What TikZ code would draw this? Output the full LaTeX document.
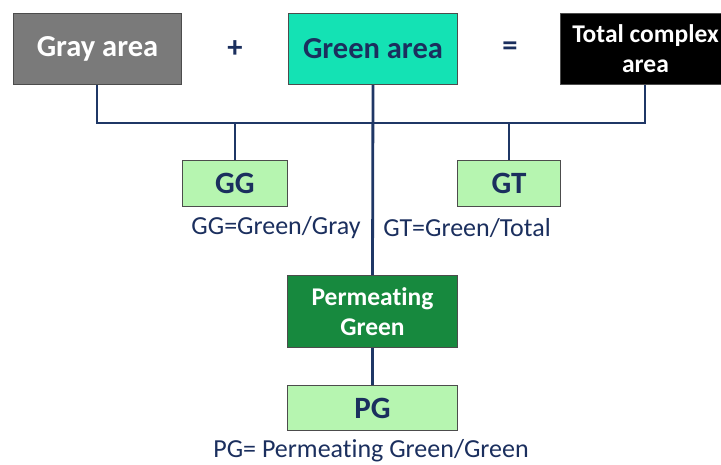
\documentclass[tikz,border=0pt]{standalone}
\usepackage{fontspec}
\setmainfont[Ligatures={NoCommon,TeX}]{Carlito}
\definecolor{navy}{HTML}{1B2F5E}
\definecolor{linec}{HTML}{1F3766}
\definecolor{graybox}{HTML}{7A7A7A}
\definecolor{aqua}{HTML}{14E2B4}
\definecolor{lgreen}{HTML}{B6F5B0}
\definecolor{dgreen}{HTML}{17893E}
\tikzset{
  box/.style={draw=black!70, line width=1pt, inner sep=0pt, anchor=north west},
  conn/.style={draw=linec, line width=2.8pt},
  lbl/.style={text=navy, font=\fontsize{26}{28}\selectfont, inner sep=0pt},
  big/.style={font=\bfseries\fontsize{30.5}{32}\selectfont},
}
\begin{document}
\begin{tikzpicture}[x=1pt,y=-1pt]
\useasboundingbox (0,0) rectangle (721,464);
\node[box, big, fill=graybox, minimum width=168pt, minimum height=71pt, text=white] (gray) at (13,13) {Gray area};
\node[box, big, fill=aqua, minimum width=169pt, minimum height=71pt, text=navy] (green) at (288,13) {Green area};
\node[box, fill=black, minimum width=170pt, minimum height=71pt, text=white, align=center, font=\bfseries\fontsize{25.5}{30}\selectfont] (total) at (560,13) {Total complex\\area};
\node[text=navy, big] (plus) at (235,49) {+};
\node[text=navy, big] (eq) at (510,49) {=};
\node[box, fill=lgreen, minimum width=105pt, minimum height=46pt, text=navy, font=\bfseries\fontsize{31}{32}\selectfont] (gg) at (182,160) {GG};
\node[box, fill=lgreen, minimum width=103pt, minimum height=46pt, text=navy, font=\bfseries\fontsize{31}{32}\selectfont] (gt) at (457,160) {GT};
\node[box, fill=dgreen, minimum width=170pt, minimum height=72pt, text=white, align=center, font=\bfseries\fontsize{25.5}{30}\selectfont] (perm) at (287,275) {Permeating\\Green};
\node[box, fill=lgreen, minimum width=170pt, minimum height=45pt, text=navy, font=\bfseries\fontsize{31}{32}\selectfont] (pg) at (287,385) {PG};
\node[lbl] (ggl) at (276,228) {GG=Green/Gray};
\node[lbl] (gtl) at (467,228) {GT=Green/Total};
\node[lbl] (pgl) at (371,451) {PG= Permeating Green/Green};
\coordinate (hl) at (97,123);
\coordinate (hr) at (645,123);
\draw[conn] (gray.south -| hl) -- (hl) -- (hr) -- (total.south -| hr);
\draw[conn] (green.south) -- (perm.north);
\draw[conn] (gg.north) -- (gg.north |- hl);
\draw[conn] (gt.north) -- (gt.north |- hl);
\draw[conn] (perm.south) -- (pg.north);
\end{tikzpicture}
\end{document}
